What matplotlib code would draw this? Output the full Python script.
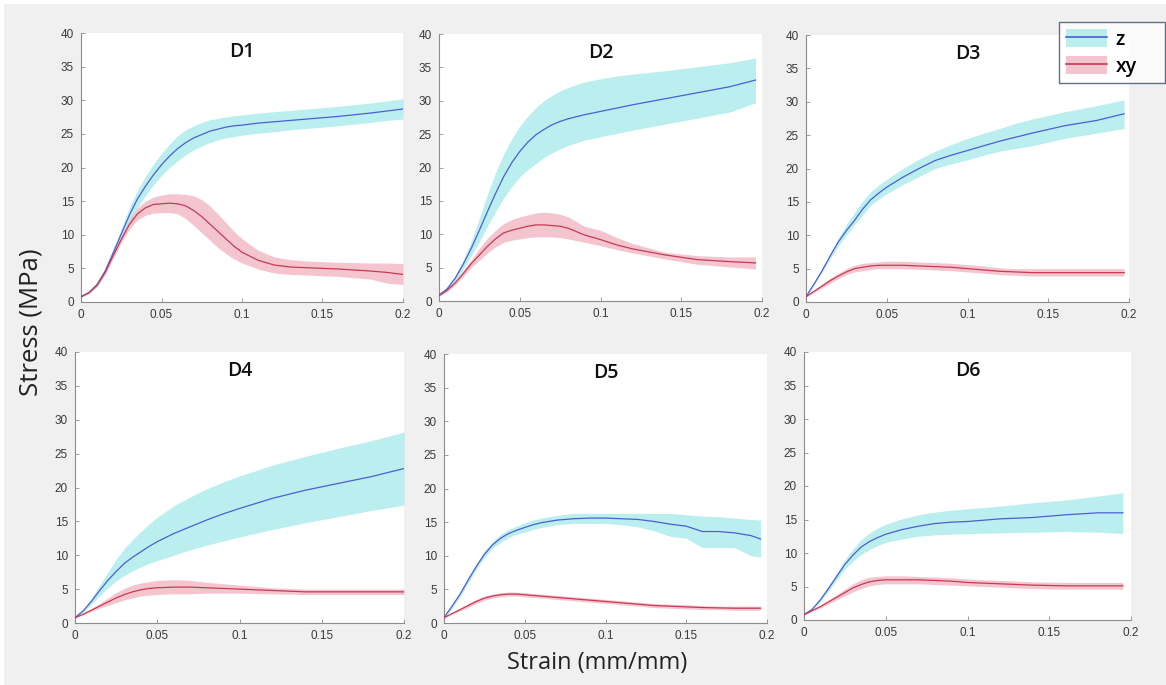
import matplotlib
matplotlib.use("Agg")
import matplotlib.pyplot as plt
from matplotlib.patches import Patch, Rectangle
from matplotlib.lines import Line2D

# ---------------- data ----------------
panel_names = ["D1", "D2", "D3", "D4", "D5", "D6"]
xtick_values = [0, 0.05, 0.1, 0.15, 0.2]
xtick_labels = ["0", "0.05", "0.1", "0.15", "0.2"]
ytick_values = [0, 5, 10, 15, 20, 25, 30, 35, 40]
series_names = ["z", "xy"]

# D1
D1_strain = [0, .005, .01, .015, .02, .025, .03, .035, .04, .045, .05, .055, .06, .065, .07, .075, .08, .085, .09, .095, .1, .11, .12, .13, .14, .16, .18, .19, .2]
D1_z_mean = [0.8, 1.4, 2.6, 4.6, 7.3, 10.1, 12.9, 15.3, 17.2, 18.9, 20.4, 21.7, 22.8, 23.7, 24.4, 24.9, 25.4, 25.7, 26.0, 26.2, 26.3, 26.6, 26.8, 27.0, 27.2, 27.6, 28.1, 28.4, 28.7]
D1_z_hi   = [0.9, 1.6, 2.9, 5.0, 7.9, 10.9, 14.0, 16.6, 18.7, 20.5, 22.1, 23.5, 24.7, 25.6, 26.2, 26.7, 27.1, 27.3, 27.5, 27.7, 27.8, 28.1, 28.3, 28.5, 28.7, 29.1, 29.6, 29.9, 30.2]
D1_z_lo   = [0.7, 1.2, 2.3, 4.2, 6.8, 9.4, 11.9, 14.0, 15.8, 17.4, 18.8, 20.0, 21.0, 21.9, 22.6, 23.2, 23.7, 24.1, 24.4, 24.6, 24.8, 25.1, 25.3, 25.6, 25.8, 26.2, 26.7, 27.0, 27.2]
D1_xy_mean = [0.8, 1.4, 2.5, 4.4, 6.9, 9.3, 11.5, 13.1, 14.0, 14.5, 14.6, 14.7, 14.6, 14.3, 13.6, 12.7, 11.6, 10.5, 9.4, 8.3, 7.4, 6.2, 5.5, 5.2, 5.1, 4.9, 4.6, 4.4, 4.1]
D1_xy_hi   = [0.9, 1.5, 2.7, 4.7, 7.3, 9.8, 12.2, 14.0, 15.0, 15.6, 15.9, 16.1, 16.1, 16.0, 15.8, 15.2, 14.3, 13.1, 11.8, 10.5, 9.4, 7.7, 6.7, 6.3, 6.1, 5.9, 5.8, 5.8, 5.7]
D1_xy_lo   = [0.7, 1.3, 2.3, 4.1, 6.5, 8.8, 10.8, 12.2, 12.9, 13.2, 13.3, 13.3, 13.1, 12.4, 11.4, 10.3, 9.2, 8.1, 7.2, 6.4, 5.8, 4.9, 4.3, 4.1, 4.0, 3.8, 3.4, 2.8, 2.6]

# D2
D2_strain = [0, .005, .01, .015, .02, .025, .03, .035, .04, .045, .05, .055, .06, .065, .07, .075, .08, .09, .1, .11, .12, .14, .16, .18, .196]
D2_z_mean = [0.9, 1.8, 3.4, 5.5, 7.9, 10.6, 13.4, 16.1, 18.6, 20.7, 22.4, 23.8, 24.9, 25.7, 26.4, 26.9, 27.3, 27.9, 28.4, 28.9, 29.4, 30.3, 31.2, 32.1, 33.1]
D2_z_hi   = [1.0, 2.1, 3.8, 6.2, 9.0, 12.4, 16.0, 19.2, 22.0, 24.3, 26.2, 27.7, 29.0, 30.0, 30.8, 31.5, 32.0, 32.8, 33.3, 33.7, 34.0, 34.5, 35.1, 35.7, 36.4]
D2_z_lo   = [0.8, 1.6, 3.0, 4.8, 6.8, 8.9, 11.2, 13.4, 15.4, 17.1, 18.6, 19.7, 20.6, 21.5, 22.2, 22.8, 23.3, 24.1, 24.6, 25.1, 25.6, 26.5, 27.4, 28.3, 29.7]
D2_xy_mean = [0.8, 1.6, 2.7, 4.1, 5.6, 6.9, 8.2, 9.3, 10.2, 10.6, 10.9, 11.2, 11.4, 11.4, 11.3, 11.2, 10.9, 9.9, 9.2, 8.4, 7.8, 6.9, 6.2, 5.9, 5.7]
D2_xy_hi   = [0.9, 1.8, 3.0, 4.6, 6.2, 7.9, 9.4, 10.6, 11.6, 12.2, 12.6, 12.9, 13.2, 13.3, 13.2, 13.0, 12.6, 11.2, 10.6, 9.5, 8.6, 7.3, 6.8, 6.6, 6.6]
D2_xy_lo   = [0.7, 1.4, 2.4, 3.7, 5.0, 6.1, 7.2, 8.1, 8.8, 9.1, 9.3, 9.5, 9.6, 9.6, 9.6, 9.5, 9.3, 8.8, 8.3, 7.7, 7.2, 6.3, 5.5, 5.1, 4.8]

# D3
D3_strain = [0, .005, .01, .015, .02, .025, .03, .035, .04, .045, .05, .06, .07, .08, .09, .1, .11, .12, .13, .14, .16, .18, .197]
D3_z_mean = [0.8, 2.7, 4.7, 6.9, 9.0, 10.7, 12.2, 13.9, 15.3, 16.3, 17.2, 18.7, 20.0, 21.2, 22.0, 22.7, 23.4, 24.1, 24.7, 25.3, 26.4, 27.2, 28.2]
D3_z_hi   = [0.9, 2.9, 5.0, 7.3, 9.6, 11.6, 13.4, 15.1, 16.5, 17.5, 18.4, 20.0, 21.4, 22.6, 23.6, 24.5, 25.3, 26.0, 26.8, 27.4, 28.5, 29.4, 30.3]
D3_z_lo   = [0.7, 2.5, 4.5, 6.5, 8.4, 10.0, 11.6, 13.0, 14.5, 15.4, 16.2, 17.6, 18.8, 20.0, 20.7, 21.3, 22.0, 22.6, 23.0, 23.4, 24.5, 25.3, 26.0]
D3_xy_mean = [0.8, 1.6, 2.4, 3.2, 3.9, 4.5, 5.0, 5.2, 5.4, 5.5, 5.5, 5.5, 5.4, 5.3, 5.2, 5.0, 4.8, 4.6, 4.5, 4.4, 4.4, 4.4, 4.4]
D3_xy_hi   = [0.9, 1.8, 2.7, 3.6, 4.3, 5.0, 5.5, 5.8, 5.9, 6.0, 6.1, 6.1, 6.0, 5.9, 5.8, 5.6, 5.4, 5.1, 5.0, 5.0, 5.0, 5.0, 5.0]
D3_xy_lo   = [0.7, 1.4, 2.1, 2.8, 3.5, 4.1, 4.5, 4.7, 4.9, 5.0, 5.0, 5.0, 4.9, 4.8, 4.7, 4.5, 4.3, 4.1, 4.0, 3.9, 3.9, 3.9, 3.9]

# D4
D4_strain = [0, .005, .01, .015, .02, .025, .03, .035, .04, .045, .05, .06, .07, .08, .09, .1, .12, .14, .16, .18, .2]
D4_z_mean = [0.8, 1.8, 3.2, 4.8, 6.3, 7.6, 8.8, 9.7, 10.5, 11.3, 12.0, 13.2, 14.2, 15.2, 16.1, 16.9, 18.4, 19.6, 20.6, 21.6, 22.8]
D4_z_hi   = [0.9, 2.0, 3.7, 5.6, 7.5, 9.4, 11.0, 12.3, 13.5, 14.6, 15.6, 17.3, 18.6, 19.8, 20.8, 21.7, 23.3, 24.6, 25.8, 26.9, 28.2]
D4_z_lo   = [0.7, 1.6, 2.8, 4.0, 5.2, 6.2, 7.0, 7.7, 8.3, 8.8, 9.2, 10.0, 10.8, 11.5, 12.1, 12.7, 13.8, 14.8, 15.7, 16.6, 17.4]
D4_xy_mean = [0.8, 1.3, 1.9, 2.5, 3.1, 3.7, 4.2, 4.6, 4.9, 5.1, 5.2, 5.3, 5.3, 5.2, 5.1, 5.0, 4.8, 4.6, 4.6, 4.6, 4.6]
D4_xy_hi   = [0.9, 1.4, 2.1, 2.9, 3.7, 4.5, 5.1, 5.6, 5.9, 6.1, 6.3, 6.4, 6.3, 6.0, 5.8, 5.6, 5.2, 5.0, 5.0, 5.0, 5.0]
D4_xy_lo   = [0.7, 1.2, 1.7, 2.2, 2.6, 3.0, 3.4, 3.7, 4.0, 4.1, 4.2, 4.3, 4.3, 4.4, 4.4, 4.4, 4.3, 4.2, 4.2, 4.2, 4.2]

# D5
D5_strain = [0, .005, .01, .015, .02, .025, .03, .035, .04, .045, .05, .055, .06, .07, .08, .09, .1, .11, .12, .13, .14, .15, .16, .17, .18, .19, .196]
D5_z_mean = [0.8, 2.5, 4.3, 6.4, 8.4, 10.2, 11.6, 12.6, 13.3, 13.8, 14.2, 14.6, 14.9, 15.3, 15.5, 15.6, 15.6, 15.5, 15.4, 15.1, 14.7, 14.4, 13.6, 13.6, 13.4, 13.0, 12.5]
D5_z_hi   = [0.9, 2.8, 4.7, 6.8, 8.8, 10.7, 12.1, 13.2, 13.9, 14.4, 14.9, 15.3, 15.6, 16.0, 16.3, 16.3, 16.3, 16.3, 16.3, 16.3, 16.3, 16.1, 15.9, 15.8, 15.6, 15.4, 15.3]
D5_z_lo   = [0.7, 2.2, 3.9, 6.0, 8.0, 9.7, 11.1, 12.0, 12.7, 13.2, 13.5, 13.9, 14.2, 14.6, 14.8, 14.8, 14.8, 14.6, 14.3, 13.7, 12.9, 12.6, 11.2, 11.2, 11.2, 10.0, 9.8]
D5_xy_mean = [0.8, 1.4, 2.0, 2.6, 3.2, 3.7, 4.0, 4.2, 4.3, 4.3, 4.2, 4.1, 4.0, 3.8, 3.6, 3.4, 3.2, 3.0, 2.8, 2.6, 2.5, 2.4, 2.3, 2.25, 2.2, 2.2, 2.2]
D5_xy_hi   = [0.9, 1.5, 2.2, 2.9, 3.5, 4.0, 4.3, 4.5, 4.6, 4.6, 4.5, 4.4, 4.3, 4.1, 3.9, 3.7, 3.5, 3.3, 3.1, 2.9, 2.8, 2.7, 2.6, 2.5, 2.5, 2.5, 2.5]
D5_xy_lo   = [0.7, 1.3, 1.8, 2.3, 2.9, 3.4, 3.7, 3.9, 4.0, 4.0, 3.9, 3.8, 3.7, 3.5, 3.3, 3.1, 2.9, 2.7, 2.5, 2.3, 2.2, 2.1, 2.0, 2.0, 1.9, 1.9, 1.9]

# D6
D6_strain = [0, .005, .01, .015, .02, .025, .03, .035, .04, .045, .05, .06, .07, .08, .09, .1, .12, .14, .16, .18, .195]
D6_z_mean = [0.8, 1.6, 3.0, 4.7, 6.5, 8.3, 9.7, 10.9, 11.7, 12.3, 12.8, 13.5, 14.0, 14.4, 14.6, 14.7, 15.1, 15.3, 15.7, 16.0, 16.0]
D6_z_hi   = [0.9, 1.7, 3.3, 5.1, 7.0, 9.0, 10.6, 12.0, 13.0, 13.7, 14.3, 15.1, 15.7, 16.1, 16.4, 16.6, 17.0, 17.5, 17.9, 18.5, 19.0]
D6_z_lo   = [0.7, 1.5, 2.7, 4.3, 6.0, 7.6, 8.8, 9.8, 10.5, 11.1, 11.6, 12.1, 12.5, 12.7, 12.8, 12.9, 13.0, 13.1, 13.2, 13.1, 12.9]
D6_xy_mean = [0.8, 1.4, 2.0, 2.7, 3.4, 4.1, 4.8, 5.3, 5.7, 5.9, 6.0, 6.0, 6.0, 5.9, 5.8, 5.6, 5.4, 5.2, 5.1, 5.1, 5.1]
D6_xy_hi   = [0.9, 1.5, 2.2, 3.0, 3.8, 4.6, 5.4, 6.0, 6.4, 6.5, 6.6, 6.6, 6.5, 6.4, 6.3, 6.1, 5.9, 5.7, 5.6, 5.6, 5.6]
D6_xy_lo   = [0.7, 1.3, 1.8, 2.4, 3.0, 3.6, 4.2, 4.7, 5.1, 5.3, 5.4, 5.4, 5.4, 5.3, 5.2, 5.1, 4.9, 4.7, 4.6, 4.6, 4.6]

panel_data = {
    "D1": (D1_strain, (D1_z_mean, D1_z_lo, D1_z_hi), (D1_xy_mean, D1_xy_lo, D1_xy_hi)),
    "D2": (D2_strain, (D2_z_mean, D2_z_lo, D2_z_hi), (D2_xy_mean, D2_xy_lo, D2_xy_hi)),
    "D3": (D3_strain, (D3_z_mean, D3_z_lo, D3_z_hi), (D3_xy_mean, D3_xy_lo, D3_xy_hi)),
    "D4": (D4_strain, (D4_z_mean, D4_z_lo, D4_z_hi), (D4_xy_mean, D4_xy_lo, D4_xy_hi)),
    "D5": (D5_strain, (D5_z_mean, D5_z_lo, D5_z_hi), (D5_xy_mean, D5_xy_lo, D5_xy_hi)),
    "D6": (D6_strain, (D6_z_mean, D6_z_lo, D6_z_hi), (D6_xy_mean, D6_xy_lo, D6_xy_hi)),
}

# ---------------- style / layout ----------------
W, H = 1166, 685
BG = "#f0f0f0"
Z_FILL, Z_LINE = "#78dee0", "#4b5fd4"
XY_FILL, XY_LINE = "#ea8ca0", "#c63a55"
AX_COLOR = "#8c8c8c"
TICK_COLOR = "#3a3a3a"

# pixel boxes (left, top, right, bottom)
boxes = {
    "D1": (81, 33, 403, 302),
    "D2": (439, 34, 762, 301),
    "D3": (806, 35, 1129, 302),
    "D4": (75, 352, 404, 623),
    "D5": (444, 354, 767, 623),
    "D6": (804, 352, 1131, 620),
}

fig = plt.figure(figsize=(W / 100, H / 100), dpi=100, facecolor="white")
fig.patches.append(Rectangle((4 / W, 0), 1, 1 - 4 / H, transform=fig.transFigure,
                             facecolor=BG, edgecolor="none", zorder=-10))

for name in panel_names:
    l, t, r, b = boxes[name]
    ax = fig.add_axes([l / W, 1 - b / H, (r - l) / W, (b - t) / H])
    ax.set_facecolor("white")
    strain, zs, xys = panel_data[name]
    ax.fill_between(strain, zs[1], zs[2], color=Z_FILL, alpha=0.5, lw=0, zorder=1)
    ax.fill_between(strain, xys[1], xys[2], color=XY_FILL, alpha=0.5, lw=0, zorder=2)
    ax.plot(strain, zs[0], color=Z_LINE, lw=0.9, zorder=3)
    ax.plot(strain, xys[0], color=XY_LINE, lw=0.9, zorder=3)
    ax.set_xlim(0, 0.2)
    ax.set_ylim(0, 40)
    ax.set_xticks(xtick_values)
    ax.set_xticklabels(xtick_labels)
    ax.set_yticks(ytick_values)
    for s in ["top", "right"]:
        ax.spines[s].set_visible(False)
    for s in ["left", "bottom"]:
        ax.spines[s].set_color(AX_COLOR)
        ax.spines[s].set_linewidth(0.8)
    ax.tick_params(direction="in", length=3, width=0.6, color=AX_COLOR,
                   labelcolor=TICK_COLOR, labelsize=8.5, pad=5)
    for lbl in ax.get_xticklabels() + ax.get_yticklabels():
        lbl.set_family("Liberation Sans")
    ax.text(0.5, 0.93, name, transform=ax.transAxes, ha="center", va="center",
            fontsize=14, fontweight="semibold", family="Open Sans", color="#111111")

fig.text(31 / W, 1 - 322 / H, "Stress (MPa)", rotation=90, ha="center", va="center",
         fontsize=18.5, family="Open Sans", color="#222222")
fig.text(597 / W, 1 - 663 / H, "Strain (mm/mm)", ha="center", va="center",
         fontsize=17, family="Open Sans", color="#222222")

# legend
h_z = (Patch(facecolor=Z_FILL, alpha=0.5, edgecolor="none"), Line2D([], [], color=Z_LINE, lw=1.2))
h_xy = (Patch(facecolor=XY_FILL, alpha=0.5, edgecolor="none"), Line2D([], [], color=XY_LINE, lw=1.2))
leg = fig.legend([h_z, h_xy], series_names, loc="upper left", mode="expand",
                 bbox_to_anchor=(1059 / W, 1 - 86 / H, 106 / W, 64 / H), frameon=True, fancybox=False,
                 prop={"family": "Open Sans", "size": 14, "weight": "semibold"},
                 handlelength=2.1, handleheight=1.1, borderpad=0.35, labelspacing=0.3,
                 handletextpad=0.45, borderaxespad=0)
leg.get_frame().set_edgecolor("#3d4c6e")
leg.get_frame().set_linewidth(1.0)
leg.get_frame().set_facecolor("white")

fig.savefig("out.png", dpi=100, facecolor=fig.get_facecolor())
